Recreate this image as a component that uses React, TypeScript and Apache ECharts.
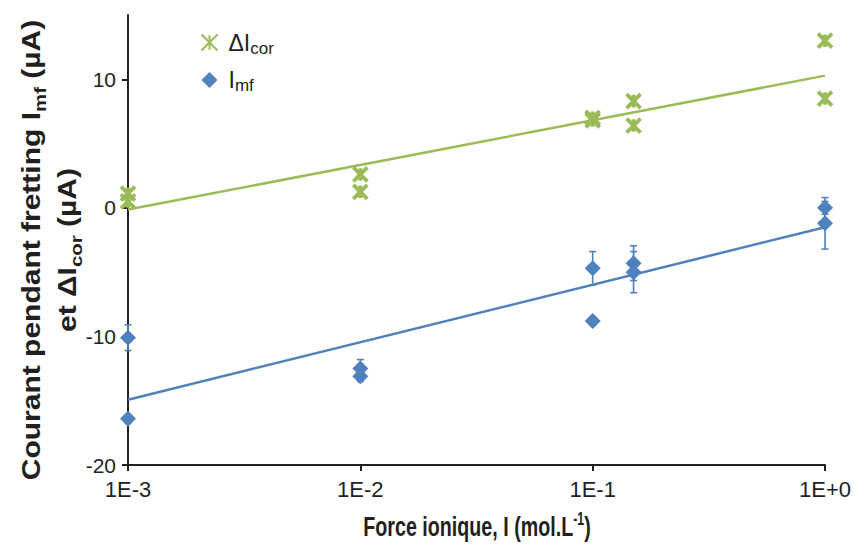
import React, { useEffect, useRef } from 'react';
import * as echarts from 'echarts';

const xTicks = [0.001, 0.01, 0.1, 1];
const xTickLabels = ['1E-3', '1E-2', '1E-1', '1E+0'];
const yTicks = [-20, -10, 0, 10];

const corX = [0.001, 0.001, 0.01, 0.01, 0.1, 0.1, 0.15, 0.15, 1, 1];
const corY = [1.1, 0.5, 2.6, 1.25, 7.0, 6.8, 8.3, 6.4, 13.0, 8.5];

const mfX = [0.001, 0.001, 0.01, 0.01, 0.1, 0.1, 0.15, 0.15, 1, 1];
const mfY = [-10.1, -16.4, -12.5, -13.1, -4.7, -8.8, -4.3, -5.0, 0.0, -1.2];
const mfErr = [1.0, 0.3, 0.7, 0.4, 1.3, 0.3, 1.35, 1.6, 0.5, 2.0];

const GREEN = '#9BBB59';
const BLUE = '#4F81BD';
const AXIS = '#231F20';
const STAR = 'path://M0,0L10,10M10,0L0,10M5,0.5L5,9.5';

function trend(xs: number[], ys: number[]) {
  const lx = xs.map((v) => Math.log10(v));
  const n = lx.length;
  const mx = lx.reduce((a, b) => a + b, 0) / n;
  const my = ys.reduce((a, b) => a + b, 0) / n;
  let sxy = 0;
  let sxx = 0;
  for (let i = 0; i < n; i++) {
    sxy += (lx[i] - mx) * (ys[i] - my);
    sxx += (lx[i] - mx) * (lx[i] - mx);
  }
  const b = sxy / sxx;
  const a = my - b * mx;
  return [xTicks[0], xTicks[xTicks.length - 1]].map((x) => [x, a + b * Math.log10(x)]);
}

export default function App() {
  const ref = useRef<HTMLDivElement>(null);
  useEffect(() => {
    if (!ref.current) return;
    const chart = echarts.init(ref.current, undefined, { renderer: 'svg' });
    const titleRich = {
      b: { fontFamily: 'Liberation Sans, Arial, sans-serif', fontWeight: 'bold', fontSize: 25, lineHeight: 35, color: '#231F20' },
      s: { fontFamily: 'Liberation Sans, Arial, sans-serif', fontWeight: 'bold', fontSize: 17, lineHeight: 22, verticalAlign: 'bottom', color: '#231F20' },
    };
    const xRich = {
      b: { fontFamily: 'Liberation Sans, Arial, sans-serif', fontWeight: 'bold', fontSize: 24, lineHeight: 28, color: '#231F20' },
      p: { fontFamily: 'Liberation Sans, Arial, sans-serif', fontWeight: 'bold', fontSize: 15, lineHeight: 16, verticalAlign: 'top', color: '#231F20' },
    };
    const legRich = {
      m: { fontFamily: 'Liberation Sans, Arial, sans-serif', fontSize: 23, lineHeight: 28, color: '#231F20', padding: [0, 0, 0, 6] },
      s: { fontFamily: 'Liberation Sans, Arial, sans-serif', fontSize: 17, lineHeight: 20, verticalAlign: 'bottom', color: '#231F20' },
    };
    chart.setOption({
      animation: false,
      backgroundColor: '#ffffff',
      grid: { left: 128, right: 29, top: 15, bottom: 82, containLabel: false },
      legend: {
        orient: 'vertical',
        left: 199,
        top: 31,
        padding: 0,
        itemWidth: 16,
        itemHeight: 16,
        itemGap: 12,
        data: [
          { name: 'ΔIcor', icon: STAR },
          { name: 'Imf', icon: 'diamond' },
        ],
        formatter: (name: string) => (name === 'ΔIcor' ? '{m|ΔI}{s|cor}' : '{m|I}{s|mf}'),
        textStyle: { rich: legRich },
      },
      xAxis: {
        type: 'log',
        logBase: 10,
        min: xTicks[0],
        max: xTicks[xTicks.length - 1],
        axisLine: { onZero: false, lineStyle: { color: AXIS, width: 2 } },
        axisTick: { show: true, inside: false, length: 6, lineStyle: { color: AXIS, width: 2 } },
        minorTick: { show: false },
        splitLine: { show: false },
        axisLabel: {
          margin: 13,
          fontFamily: 'Liberation Sans, Arial, sans-serif',
          fontSize: 22,
          color: '#231F20',
          formatter: (v: number) => {
            const i = Math.round(Math.log10(v)) + 3;
            return xTickLabels[i] ?? '';
          },
        },
      },
      yAxis: {
        type: 'value',
        min: -20,
        max: 15,
        interval: 10,
        axisLine: { show: true, onZero: false, lineStyle: { color: AXIS, width: 2 } },
        axisTick: { show: true, inside: false, length: 6, lineStyle: { color: AXIS, width: 2 }, customValues: yTicks },
        splitLine: { show: false },
        axisLabel: {
          margin: 12,
          fontFamily: 'Liberation Sans, Arial, sans-serif',
          fontSize: 21,
          color: '#231F20',
          customValues: yTicks,
        },
      },
      graphic: [
        {
          type: 'text',
          x: 49,
          y: 250,
          rotation: Math.PI / 2,
          scaleX: 1.2,
          scaleY: 1.02,
          style: {
            text: '{b|Courant pendant fretting I}{s|mf}{b| (µA)}\n{b|et ΔI}{s|cor}{b| (µA)}',
            rich: titleRich,
            align: 'center',
            verticalAlign: 'middle',
            fill: '#231F20',
          },
        },
        {
          type: 'text',
          x: 477,
          y: 526,
          scaleX: 0.82,
          scaleY: 1.17,
          style: {
            text: '{b|Force ionique, I (mol.L}{p|-1}{b|)}',
            rich: xRich,
            align: 'center',
            verticalAlign: 'middle',
            fill: '#231F20',
          },
        },
      ],
      series: [
        {
          name: 'trendCor',
          type: 'line',
          data: trend(corX, corY),
          showSymbol: false,
          symbol: 'none',
          lineStyle: { color: GREEN, width: 2.5 },
          z: 1,
        },
        {
          name: 'trendMf',
          type: 'line',
          data: trend(mfX, mfY),
          showSymbol: false,
          symbol: 'none',
          lineStyle: { color: BLUE, width: 2.5 },
          z: 1,
        },
        {
          name: 'errMf',
          type: 'custom',
          z: 2,
          data: mfX.map((x, i) => [x, mfY[i] - mfErr[i], mfY[i] + mfErr[i]]),
          encode: { x: 0, y: [1, 2] },
          renderItem: (params: any, api: any) => {
            const x = api.value(0);
            const lo = api.coord([x, api.value(1)]);
            const hi = api.coord([x, api.value(2)]);
            const w = 3.5;
            const st = { stroke: BLUE, lineWidth: 1.6 };
            return {
              type: 'group',
              children: [
                { type: 'line', shape: { x1: lo[0], y1: lo[1], x2: hi[0], y2: hi[1] }, style: st },
                { type: 'line', shape: { x1: lo[0] - w, y1: lo[1], x2: lo[0] + w, y2: lo[1] }, style: st },
                { type: 'line', shape: { x1: hi[0] - w, y1: hi[1], x2: hi[0] + w, y2: hi[1] }, style: st },
              ],
            };
          },
        },
        {
          name: 'ΔIcor',
          type: 'scatter',
          symbol: STAR,
          symbolSize: 14,
          z: 3,
          data: corX.map((x, i) => [x, corY[i]]),
          itemStyle: { color: 'none', borderColor: GREEN, borderWidth: 3.8, opacity: 1 },
        },
        {
          name: 'Imf',
          type: 'scatter',
          symbol: 'diamond',
          symbolSize: 16,
          z: 3,
          data: mfX.map((x, i) => [x, mfY[i]]),
          itemStyle: { color: BLUE, opacity: 1 },
        },
      ],
    });
    return () => chart.dispose();
  }, []);
  return <div ref={ref} style={{ width: 854, height: 547, position: 'absolute', left: 0, top: 0 }} />;
}
